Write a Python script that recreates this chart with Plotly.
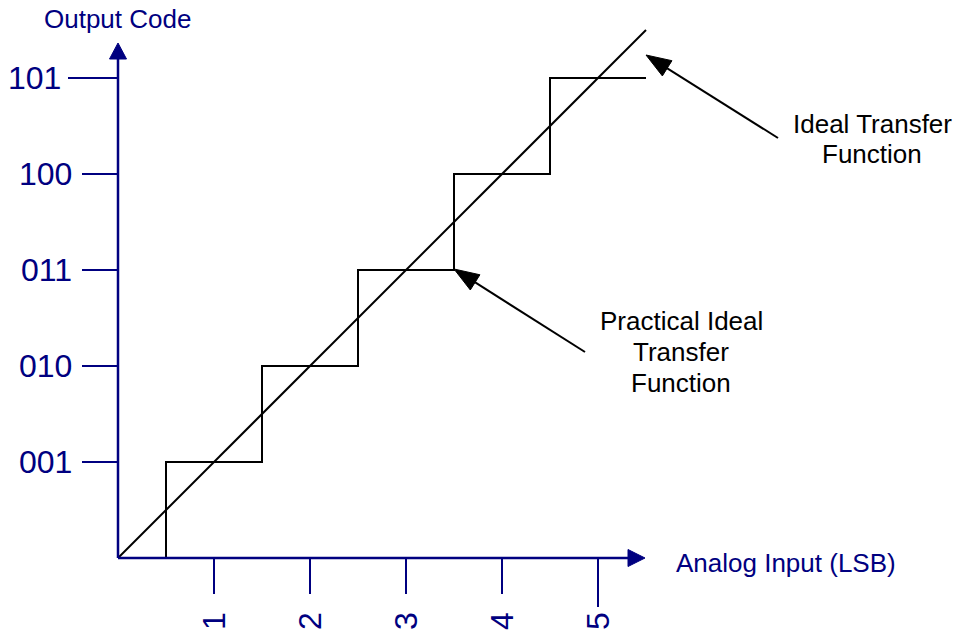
import math
import plotly.graph_objects as go

# ---------------- data ----------------
code_labels = ["001", "010", "011", "100", "101"]
code_levels = [1, 2, 3, 4, 5]
input_ticks = [1, 2, 3, 4, 5]
input_labels = ["1", "2", "3", "4", "5"]
# practical (quantised) transfer function: code changes at the half-LSB points
step_edges = [0, 0.5, 1.5, 2.5, 3.5, 4.5, 5.5]
step_levels = [0, 1, 2, 3, 4, 5, 5]
# ideal (straight line) transfer function
ideal_x = [0, 5.5]
ideal_y = [0, 5.5]
x_title = "Analog Input (LSB)"
y_title = "Output Code"
ideal_label = ["Ideal Transfer", "Function"]
practical_label = ["Practical Ideal", "Transfer", "Function"]

# ---------------- layout helpers ----------------
W, H = 959, 630
PX = 96.0          # pixels per unit (both axes)
X0, Y0 = 118, 558  # pixel position of the origin
NAVY = "#000080"
FONT = "Liberation Sans, Arial, sans-serif"


def dx(px):
    return (px - X0) / PX


def dy(py):
    return (Y0 - py) / PX


def triangle(tip, toward, length_px, width_px):
    tx, ty = tip
    ux, uy = toward[0] - tx, toward[1] - ty
    n = math.hypot(ux, uy)
    ux, uy = ux / n, uy / n
    L, Wd = length_px / PX, width_px / PX / 2
    bx, by = tx + ux * L, ty + uy * L
    px_, py_ = -uy, ux
    p1 = (bx + px_ * Wd, by + py_ * Wd)
    p2 = (bx - px_ * Wd, by - py_ * Wd)
    return f"M {tx},{ty} L {p1[0]},{p1[1]} L {p2[0]},{p2[1]} Z"


fig = go.Figure()

# ideal transfer function
fig.add_trace(go.Scatter(x=ideal_x, y=ideal_y, mode="lines",
                         line=dict(color="black", width=2), hoverinfo="skip",
                         showlegend=False))
# practical transfer function (staircase)
fig.add_trace(go.Scatter(x=step_edges, y=step_levels, mode="lines",
                         line=dict(color="black", width=2, shape="hv"),
                         hoverinfo="skip", showlegend=False))

shapes = []
annotations = []

# axes lines with arrowheads
x_tip, x_base = dx(645), dx(628)
y_tip, y_base = dy(43), dy(59)
shapes.append(dict(type="line", xref="x", yref="y", x0=0, y0=0, x1=x_base, y1=0,
                   line=dict(color=NAVY, width=2.5)))
shapes.append(dict(type="line", xref="x", yref="y", x0=0, y0=0, x1=0, y1=y_base,
                   line=dict(color=NAVY, width=2.5)))
shapes.append(dict(type="path", xref="x", yref="y",
                   path=triangle((x_tip, 0), (0, 0), 17, 17),
                   fillcolor=NAVY, line=dict(color=NAVY, width=1)))
shapes.append(dict(type="path", xref="x", yref="y",
                   path=triangle((0, y_tip), (0, 0), 16, 17),
                   fillcolor=NAVY, line=dict(color=NAVY, width=1)))

# y ticks + labels
for lab, lvl in zip(code_labels, code_levels):
    top = lvl == max(code_levels)
    start_px = 68 if top else 82
    label_px = 63 if top else 74
    shapes.append(dict(type="line", xref="x", yref="y", x0=dx(start_px), y0=lvl,
                       x1=0, y1=lvl, line=dict(color=NAVY, width=2)))
    annotations.append(dict(x=dx(label_px), y=lvl, xref="x", yref="y",
                            text=lab, showarrow=False, xanchor="right",
                            yanchor="middle",
                            font=dict(family=FONT, size=32, color=NAVY)))

# x ticks + labels
for lab, t in zip(input_labels, input_ticks):
    end_py = 607 if t == max(input_ticks) else 594
    shapes.append(dict(type="line", xref="x", yref="y", x0=t, y0=0,
                       x1=t, y1=dy(end_py), line=dict(color=NAVY, width=2)))
    annotations.append(dict(x=t, y=dy(610), xref="x", yref="y", text=lab,
                            showarrow=False, textangle=-90, xanchor="center",
                            yanchor="top",
                            font=dict(family=FONT, size=32, color=NAVY)))

# axis titles
annotations.append(dict(x=dx(117), y=dy(19), xref="x", yref="y", text=y_title,
                        showarrow=False, xanchor="center", yanchor="middle",
                        font=dict(family=FONT, size=26, color=NAVY)))
annotations.append(dict(x=dx(674), y=dy(563), xref="x", yref="y", text=x_title,
                        showarrow=False, xanchor="left", yanchor="middle",
                        font=dict(family=FONT, size=26, color=NAVY)))

# callout arrows
callouts = [((dx(646), dy(55)), (dx(778), dy(138))),
            ((dx(454), dy(269)), (dx(585), dy(352)))]
for tip, tail in callouts:
    ux, uy = tail[0] - tip[0], tail[1] - tip[1]
    n = math.hypot(ux, uy)
    bx = tip[0] + ux / n * (20 / PX)
    by = tip[1] + uy / n * (20 / PX)
    shapes.append(dict(type="line", xref="x", yref="y", x0=tail[0], y0=tail[1],
                       x1=bx, y1=by, line=dict(color="black", width=2)))
    shapes.append(dict(type="path", xref="x", yref="y",
                       path=triangle(tip, tail, 25, 18),
                       fillcolor="black", line=dict(color="black", width=1)))

# callout labels
for i, line in enumerate(ideal_label):
    annotations.append(dict(x=dx(872), y=dy(124 + i * 30), xref="x", yref="y",
                            text=line, showarrow=False, xanchor="center",
                            yanchor="middle",
                            font=dict(family=FONT, size=26, color="black")))
for i, line in enumerate(practical_label):
    annotations.append(dict(x=dx(681), y=dy(321 + i * 31), xref="x", yref="y",
                            text=line, showarrow=False, xanchor="center",
                            yanchor="middle",
                            font=dict(family=FONT, size=26, color="black")))

fig.update_layout(
    width=W, height=H,
    margin=dict(l=0, r=0, t=0, b=0),
    paper_bgcolor="white", plot_bgcolor="white",
    xaxis=dict(range=[dx(0), dx(W)], visible=False, fixedrange=True),
    yaxis=dict(range=[dy(H), dy(0)], visible=False, fixedrange=True),
    shapes=shapes, annotations=annotations,
    showlegend=False,
)

fig.write_html(
    "out.html",
    config=dict(displayModeBar=False),
    post_script="document.body.style.margin='0px';"
                "document.body.style.overflow='hidden';",
)
